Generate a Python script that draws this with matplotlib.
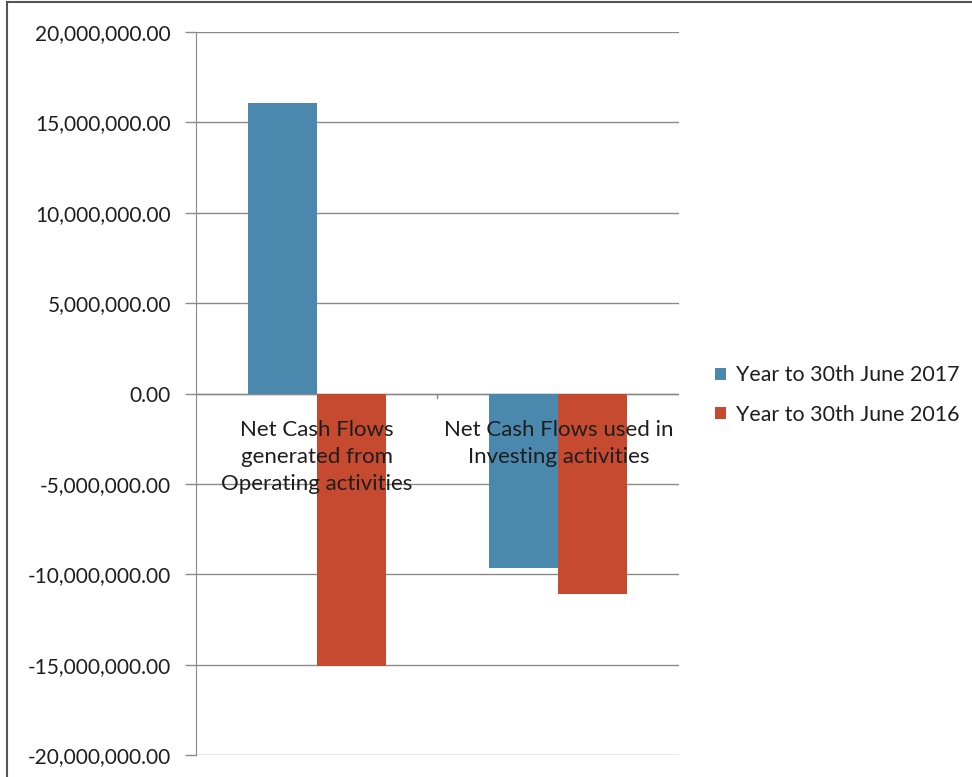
import matplotlib
matplotlib.use('Agg')
import matplotlib.pyplot as plt
from matplotlib.patches import Rectangle
from matplotlib.ticker import FuncFormatter

# cash flow summary
categories = ['Net Cash Flows\ngenerated from\nOperating activities',
              'Net Cash Flows used in\nInvesting activities']
year_2017 = [16050000, -9630000]
year_2016 = [-15070000, -11070000]
series_names = ['Year to 30th June 2017', 'Year to 30th June 2016']
yticks = [-20000000, -15000000, -10000000, -5000000, 0,
          5000000, 10000000, 15000000, 20000000]

blue = '#4b88ae'
red = '#c64a2f'
grid_col = '#8a8a8a'

plt.rcParams['font.family'] = ['Lato', 'DejaVu Sans']

fig = plt.figure(figsize=(9.72, 7.77), dpi=100)
ax = fig.add_axes([0.2016, 0.0283, 0.497, 0.9305])

w = 0.285
x = list(range(len(categories)))
ax.bar([i - w / 2 for i in x], year_2017, width=w, color=blue, zorder=2,
       label=series_names[0])
ax.bar([i + w / 2 for i in x], year_2016, width=w, color=red, zorder=2,
       label=series_names[1])

ax.set_xlim(-0.5, 1.5)
ax.set_ylim(-20000000, 20000000)
ax.set_yticks(yticks)
ax.yaxis.set_major_formatter(FuncFormatter(lambda v, p: '{:,.2f}'.format(v)))
ax.tick_params(axis='y', length=8, width=1, color=grid_col, labelsize=15,
               labelcolor='#1e1e1e', pad=10)
ax.set_xticks([])
ax.grid(axis='y', color=grid_col, linewidth=1, zorder=0)
ax.axhline(0, color=grid_col, linewidth=1, zorder=1)
# tick between the two categories on the zero line
ax.plot([0.5, 0.5], [0, -250000], color=grid_col, linewidth=1, zorder=1)

for s in ['top', 'right', 'bottom']:
    ax.spines[s].set_visible(False)
ax.spines['left'].set_color(grid_col)

# category names sit just under the zero line, over the bars
for i, c in enumerate(categories):
    ax.annotate(c, xy=(i, 0), xytext=(0, -19), textcoords='offset points',
                ha='center', va='top', multialignment='center',
                fontsize=16, color='#1e1e1e', linespacing=1.45, zorder=5)

leg = fig.legend(loc='center left', bbox_to_anchor=(0.736, 0.4915),
                 frameon=False, fontsize=15.4, handlelength=0.5,
                 handleheight=0.5, handletextpad=0.45, labelspacing=0.9,
                 borderpad=0, borderaxespad=0)
for t in leg.get_texts():
    t.set_color('#1e1e1e')

# outer chart border
fig.patches.append(Rectangle((0.0072, -0.1), 1.2, 1.097, transform=fig.transFigure,
                             fill=False, edgecolor='#555555', linewidth=1.5))

fig.savefig('out.png', dpi=100)
